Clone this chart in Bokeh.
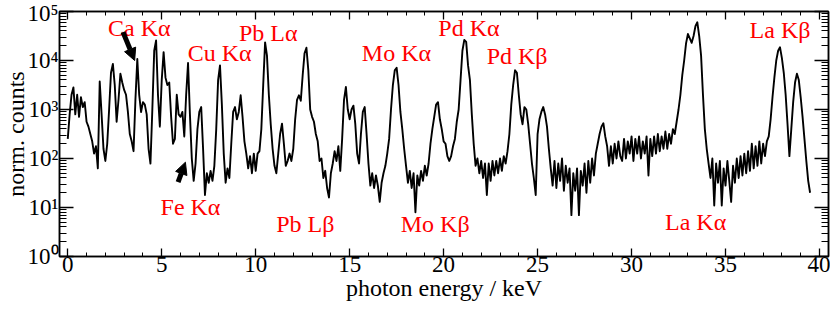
from bokeh.plotting import figure
from bokeh.models import (Range1d, FixedTicker, LogAxis, LinearAxis, Arrow,
                          NormalHead, ColumnDataSource, CustomJSTickFormatter)
from bokeh.embed import file_html
from bokeh.resources import INLINE
from bokeh.core.properties import value

# ---- data (counts per 0.1 keV channel, 0.0 ... 39.5 keV) ----
counts = [
    251, 794, 2000, 2820, 794, 2000, 708, 1780, 1120, 1410,          # 0
    562, 447, 316, 224, 126, 178, 63, 3720, 794, 158,                # 1
    89, 200, 1000, 5620, 8510, 3160, 562, 1580, 5370, 3550,          # 2
    2510, 2000, 891, 316, 224, 141, 1580, 10700, 2000, 891,          # 3
    1410, 1260, 794, 158, 79, 1000, 15800, 25700, 2000, 447,         # 4
    3980, 14800, 4470, 3160, 3550, 708, 200, 251, 2000, 794,         # 5
    708, 891, 282, 2000, 8910, 794, 100, 35, 79, 398,                # 6
    891, 1120, 158, 18, 50, 32, 56, 35, 71, 398,                     # 7
    3980, 7940, 1260, 126, 32, 63, 40, 200, 891, 1120,               # 8
    631, 891, 1950, 708, 224, 126, 63, 112, 50, 126,                 # 9
    56, 126, 141, 398, 3160, 23400, 12600, 2000, 501, 158,           # 10
    71, 50, 126, 316, 513, 200, 71, 89, 126, 89,                     # 11
    158, 631, 1580, 1950, 1510, 5010, 14100, 18200, 6310, 1000,      # 12
    708, 562, 316, 224, 89, 100, 40, 56, 25, 16,                     # 13
    50, 79, 141, 89, 178, 56, 251, 1580, 2880, 1000,                 # 14
    631, 1000, 1200, 501, 126, 79, 316, 891, 1120, 316,              # 15
    79, 28, 50, 25, 45, 28, 13, 32, 50, 71,                          # 16
    126, 251, 1000, 3160, 6310, 7080, 3160, 891, 398, 158,           # 17
    71, 32, 56, 25, 50, 8, 45, 28, 56, 35,                           # 18
    71, 45, 79, 200, 398, 708, 1260, 1410, 631, 398,                 # 19
    224, 200, 112, 89, 112, 178, 251, 562, 1000, 3980,               # 20
    15800, 26300, 24000, 7940, 3980, 794, 200, 71, 100, 50,          # 21
    89, 40, 79, 18, 79, 35, 89, 45, 89, 50,                          # 22
    100, 56, 112, 79, 141, 316, 1260, 3160, 6310, 5620,              # 23
    2000, 794, 501, 1120, 1000, 501, 200, 79, 40, 18,                # 24
    316, 631, 891, 1120, 794, 447, 158, 63, 28, 89,                  # 25
    25, 79, 35, 100, 22, 71, 32, 63, 7, 50,                          # 26
    22, 63, 7, 56, 28, 79, 20, 89, 32, 100,                          # 27
    45, 126, 200, 316, 447, 525, 282, 178, 71, 178,                  # 28
    79, 200, 100, 224, 112, 89, 251, 100, 224, 126,                  # 29
    282, 89, 251, 126, 282, 100, 224, 126, 282, 45,                  # 30
    251, 112, 282, 126, 316, 141, 282, 158, 355, 158,                # 31
    316, 200, 398, 316, 562, 1000, 2000, 5010, 10000, 22400,         # 32
    34700, 28200, 22900, 31600, 50100, 60300, 31600, 12600, 2000, 398,  # 33
    158, 79, 40, 100, 11, 79, 32, 89, 11, 63,                        # 34
    28, 89, 35, 13, 71, 32, 100, 40, 112, 45,                        # 35
    126, 50, 141, 56, 200, 63, 178, 71, 224, 79,                     # 36
    200, 112, 224, 282, 631, 1780, 4470, 10000, 15800, 18600,        # 37
    11200, 5620, 2000, 501, 112, 398, 1410, 3550, 5370, 3980,        # 38
    1780, 708, 251, 89, 35, 20,                                      # 39
]
energy_keV = [round(0.1 * i, 1) for i in range(len(counts))]

x_major_ticks = [0, 5, 10, 15, 20, 25, 30, 35, 40]
x_minor_ticks = list(range(0, 41))
y_major_ticks = [1, 10, 100, 1000, 10000, 100000]
y_tick_labels = ["10⁰", "10¹", "10²", "10³", "10⁴", "10⁵"]
y_minor_ticks = [m * 10 ** e for e in range(5) for m in range(2, 10)]

line_names = ["Ca Kα", "Cu Kα", "Pb Lα", "Pb Lβ", "Mo Kα", "Mo Kβ",
              "Pd Kα", "Pd Kβ", "La Kα", "La Kβ", "Fe Kα"]
line_x = [3.81, 8.08, 10.67, 12.64, 17.49, 19.55, 21.35, 23.91, 33.41, 37.9, 6.53]
line_y = [45000, 14200, 36500, 4.7, 13900, 4.7, 45000, 12100, 5.1, 42000, 10.3]

FONT = "Liberation Serif"

p = figure(width=830, height=310, x_range=Range1d(-0.44, 40.48), y_range=Range1d(1, 1e5),
           y_axis_type="log", output_backend="svg", toolbar_location=None,
           min_border_left=59, min_border_right=2, min_border_top=11, min_border_bottom=54)
p.xgrid.visible = False
p.ygrid.visible = False
p.outline_line_color = "black"
p.outline_line_width = 1.5
p.background_fill_color = "white"
p.border_fill_color = "white"

xa = p.xaxis[0]
ya = p.yaxis[0]
top = LinearAxis()
right = LogAxis()
p.add_layout(top, "above")
p.add_layout(right, "right")

for ax in (xa, top):
    ax.ticker = FixedTicker(ticks=x_major_ticks, minor_ticks=x_minor_ticks)
    ax.major_tick_in = 8
    ax.minor_tick_in = 4
for ax in (ya, right):
    ax.ticker = FixedTicker(ticks=y_major_ticks, minor_ticks=y_minor_ticks)
    ax.major_tick_in = 14
    ax.minor_tick_in = 7
for ax in (xa, top, ya, right):
    ax.major_tick_out = 0
    ax.minor_tick_out = 0
    ax.axis_line_color = "black"
    ax.axis_line_width = 1.5
    ax.major_tick_line_color = "black"
    ax.major_tick_line_width = 1.3
    ax.minor_tick_line_color = "black"
    ax.minor_tick_line_width = 1
for ax in (top, right):
    ax.formatter = CustomJSTickFormatter(code="return '';")
    ax.major_label_text_font_size = "1px"
    ax.major_label_standoff = 0

xa.major_label_text_font = FONT
xa.major_label_text_font_size = "23px"
xa.major_label_text_color = "black"
xa.major_label_standoff = 0
xa.axis_label = "photon energy / keV"
xa.axis_label_text_font = FONT
xa.axis_label_text_font_size = "24px"
xa.axis_label_text_font_style = "normal"
xa.axis_label_text_color = "black"
xa.axis_label_standoff = 0

ya.major_label_overrides = dict(zip(y_major_ticks, y_tick_labels))
ya.major_label_text_font = FONT
ya.major_label_text_font_size = "23px"
ya.major_label_text_color = "black"
ya.major_label_standoff = 1
ya.axis_label = "norm. counts"
ya.axis_label_text_font = FONT
ya.axis_label_text_font_size = "24px"
ya.axis_label_text_font_style = "normal"
ya.axis_label_text_color = "black"
ya.axis_label_standoff = -5

p.line(energy_keV, counts, line_color="black", line_width=1.9, line_join="round")

src = ColumnDataSource(dict(name=line_names, x=line_x, y=line_y))
p.text(x="x", y="y", text="name", source=src, text_font=value(FONT),
       text_font_size="24px", text_color="#ff0000", text_align="center",
       text_baseline="alphabetic")

p.add_layout(Arrow(end=NormalHead(size=12, fill_color="black", line_color="black"),
                   x_start=2.94, y_start=38000, x_end=3.56, y_end=10000,
                   line_width=5, line_color="black"))
p.add_layout(Arrow(end=NormalHead(size=12, fill_color="black", line_color="black"),
                   x_start=5.87, y_start=33, x_end=6.26, y_end=84,
                   line_width=5, line_color="black"))

open("out.html", "w").write(file_html(p, INLINE))
